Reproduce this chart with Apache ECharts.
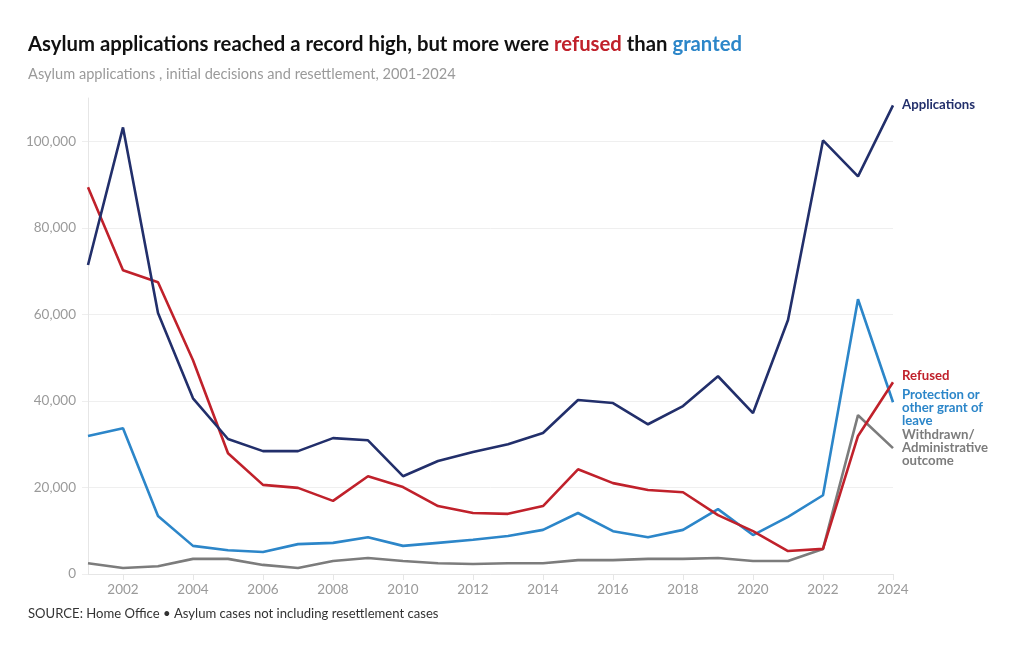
<!DOCTYPE html>
<html>
<head>
<meta charset="utf-8">
<script src="https://cdn.jsdelivr.net/npm/echarts@6/dist/echarts.min.js"></script>
<style>html,body{margin:0;padding:0;background:#fff}#c{width:1020px;height:650px}</style>
</head>
<body>
<div id="c"></div>
<script>
const years = ['2001','2002','2003','2004','2005','2006','2007','2008','2009','2010','2011','2012','2013','2014','2015','2016','2017','2018','2019','2020','2021','2022','2023','2024'];
const applications = [71400,103200,60300,40600,31200,28400,28400,31400,30900,22600,26100,28200,30000,32600,40200,39500,34600,38800,45700,37200,58700,100200,91900,108300];
const refused = [89400,70200,67400,49400,27900,20600,19900,16900,22600,20100,15700,14100,13900,15700,24200,21000,19400,18900,13600,9900,5300,5800,31900,44300];
const granted = [31900,33700,13400,6500,5500,5100,6900,7200,8500,6500,7200,7900,8800,10200,14100,9900,8500,10200,15000,9000,13200,18200,63500,39700];
const withdrawn = [2500,1400,1800,3500,3500,2100,1400,3000,3700,3000,2500,2300,2500,2500,3200,3200,3500,3500,3700,3000,3000,5800,36700,29100];
const seriesNames = ['Applications','Refused','Protection or\nother grant of\nleave','Withdrawn/\nAdministrative\noutcome'];

const FONT = 'Lato';
const chart = echarts.init(document.getElementById('c'), null, {renderer:'canvas'});
function mk(name, data, color, offY, z){
  return {
    type:'line', name:name, data:data, symbol:'none', z:z,
    lineStyle:{color:color, width:2.6},
    itemStyle:{color:color},
    emphasis:{disabled:true},
    endLabel:{show:true, formatter:name, color:color, fontFamily:FONT, fontWeight:'bold',
      fontSize:13.2, lineHeight:13, distance:9, offset:[0,offY], align:'left'}
  };
}
chart.setOption({
  animation:false,
  title:[
    {left:23, top:29, text:'{a|Asylum applications reached a record high, but more were }{r|refused}{a| than }{g|granted}',
      textStyle:{rich:{
        a:{fontFamily:FONT, fontSize:20.3, fontWeight:'bold', color:'#111'},
        r:{fontFamily:FONT, fontSize:20.3, fontWeight:'bold', color:'#c0212b'},
        g:{fontFamily:FONT, fontSize:20.3, fontWeight:'bold', color:'#2c86c9'}}}},
    {left:23, top:62, text:'Asylum applications , initial decisions and resettlement, 2001-2024',
      textStyle:{fontFamily:FONT, fontSize:14.6, fontWeight:'normal', color:'#9a9a9a'}},
    {left:23, top:602, text:'SOURCE: Home Office \u2022 Asylum cases not including resettlement cases',
      textStyle:{fontFamily:FONT, fontSize:13.1, fontWeight:'normal', color:'#333'}}
  ],
  grid:{left:88, right:127, top:98, bottom:76, containLabel:false},
  xAxis:{type:'category', data:years, boundaryGap:false,
    axisLine:{lineStyle:{color:'#e6e6e6'}},
    axisTick:{show:true, length:6, lineStyle:{color:'#e6e6e6'}, interval:function(i){return i%2===1;}},
    axisLabel:{interval:function(i){return i%2===1;}, color:'#9a9a9a', fontFamily:FONT, fontSize:13.5, margin:9},
    splitLine:{show:false}},
  yAxis:{type:'value', min:0, max:110000, interval:20000,
    axisLine:{show:true, lineStyle:{color:'#e6e6e6'}},
    axisTick:{show:true, length:6, lineStyle:{color:'#eeeeee'}},
    axisLabel:{showMaxLabel:false, color:'#9a9a9a', fontFamily:FONT, fontSize:13.5, margin:12,
      formatter:function(v){return v.toLocaleString('en-US');}},
    splitLine:{show:true, lineStyle:{color:['#efefef','#efefef','#efefef','#efefef','#efefef','#efefef','rgba(0,0,0,0)'], width:1}}},
  series:[
    mk(seriesNames[3], withdrawn, '#7c7c7c', 0, 2),
    mk(seriesNames[2], granted, '#2c86c9', 6, 3),
    mk(seriesNames[1], refused, '#c0212b', -7, 4),
    mk(seriesNames[0], applications, '#222f6b', -1, 5)
  ]
});
</script>
</body>
</html>
